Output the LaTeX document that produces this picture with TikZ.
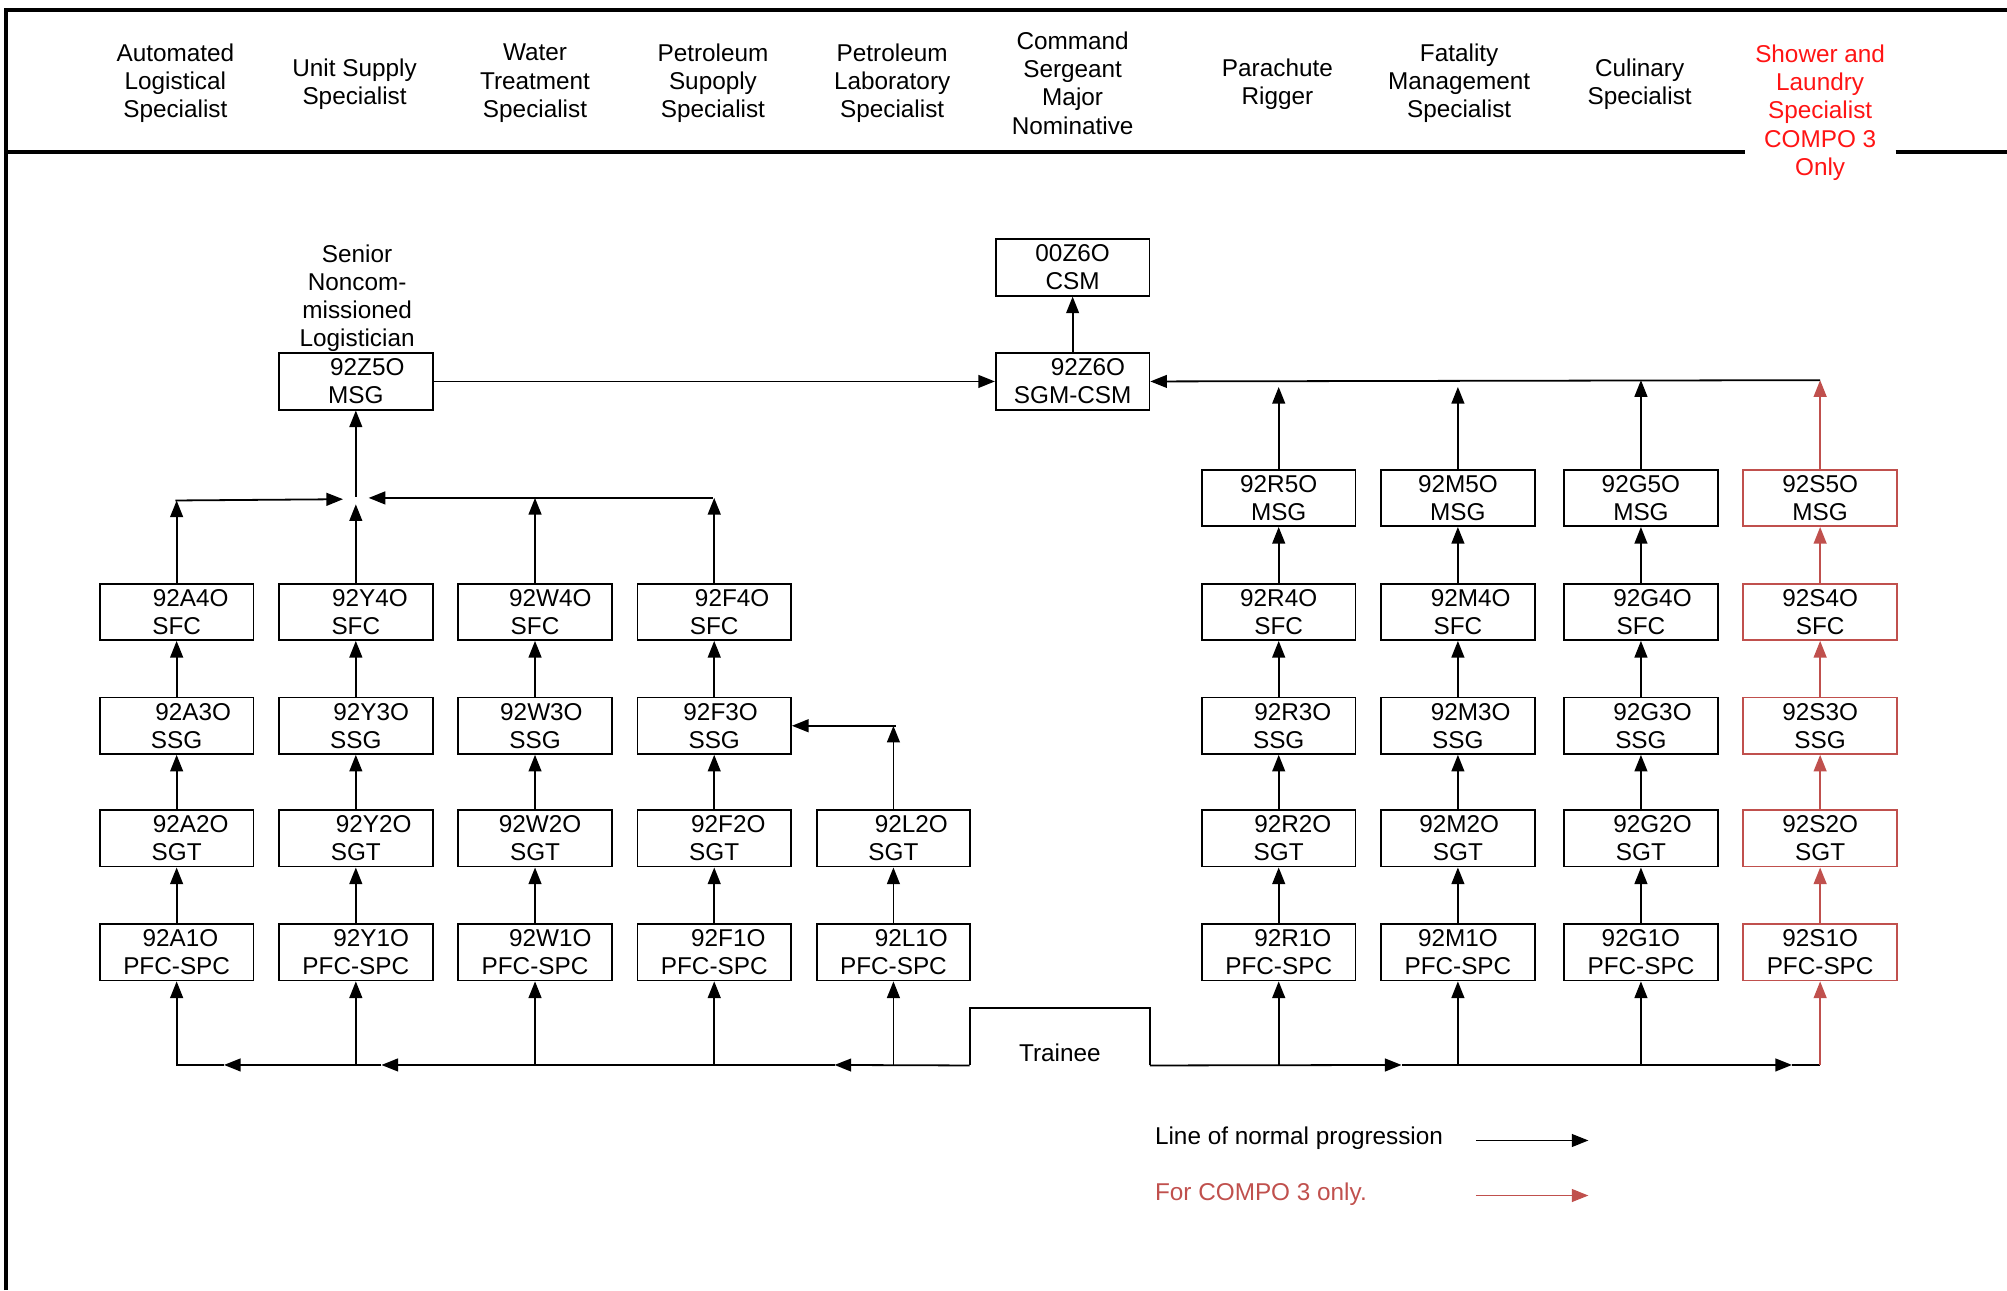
\documentclass[tikz,border=0pt]{standalone}
\usepackage{fontspec}
\setmainfont{Liberation Sans}
\usetikzlibrary{arrows.meta}
\definecolor{hred}{RGB}{255,20,20}
\definecolor{sred}{RGB}{192,80,77}
\tikzset{
  every node/.style={font=\fontsize{9.5}{11}\selectfont},
  bx/.style={draw, line width=0.7pt, minimum width=60pt, minimum height=22pt, inner sep=0pt, align=center},
  rbx/.style={bx, draw=sred},
  arr/.style={line width=0.7pt, -{Triangle[length=6.5pt,width=5pt]}},
  rarr/.style={arr, sred},
  ln/.style={line width=0.7pt},
  hd/.style={align=center, inner sep=0pt},
  frameline/.style={line width=1.5pt}
}
\newcommand\bxn[6]{\node[#1] (#2) at (#3) {\hspace*{#4pt}#5\\#6};}
\begin{document}
\begin{tikzpicture}[x=0.5pt,y=-0.5pt]
\useasboundingbox (0,0) rectangle (1568,1008);
% frame
\draw[frameline] (5,1008) -- (5,8) -- (1568,8);
\draw[frameline] (5,119) -- (1363,119);
\draw[frameline] (1481,119) -- (1568,119);
% header
\node[hd] (h1) at (137,65) {Automated\\Logistical\\Specialist};
\node[hd] (h2) at (277,66) {Unit Supply\\Specialist};
\node[hd] (h3) at (418,65) {Water\\Treatment\\Specialist};
\node[hd] (h4) at (557,65) {Petroleum\\Supoply\\Specialist};
\node[hd] (h5) at (697,65) {Petroleum\\Laboratory\\Specialist};
\node[hd] (h6) at (838,65) {Command\\Sergeant\\Major\\Nominative};
\node[hd] (h7) at (998,66) {Parachute\\Rigger};
\node[hd] (h8) at (1140,65) {Fatality\\Management\\Specialist};
\node[hd] (h9) at (1281,66) {Culinary\\Specialist};
\node[hd, text=hred] (h10) at (1422,88) {Shower and\\Laundry\\Specialist\\COMPO 3\\Only};
\node[hd] (snl) at (279,233) {Senior\\Noncom-\\missioned\\Logistician};
% top boxes
\bxn{bx}{Z5}{278,298}{9}{92Z5O}{MSG}
\bxn{bx}{C6}{838,209}{0}{00Z6O}{CSM}
\bxn{bx}{Z6}{838,298}{12}{92Z6O}{SGM-CSM}
% left columns
\bxn{bx}{A4}{138,478}{11}{92A4O}{SFC}
\bxn{bx}{A3}{138,567}{13}{92A3O}{SSG}
\bxn{bx}{A2}{138,655}{11}{92A2O}{SGT}
\bxn{bx}{A1}{138,744}{3}{92A1O}{PFC-SPC}
\bxn{bx}{Y4}{278,478}{11}{92Y4O}{SFC}
\bxn{bx}{Y3}{278,567}{12}{92Y3O}{SSG}
\bxn{bx}{Y2}{278,655}{14}{92Y2O}{SGT}
\bxn{bx}{Y1}{278,744}{12}{92Y1O}{PFC-SPC}
\bxn{bx}{W4}{418,478}{12}{92W4O}{SFC}
\bxn{bx}{W3}{418,567}{5}{92W3O}{SSG}
\bxn{bx}{W2}{418,655}{4}{92W2O}{SGT}
\bxn{bx}{W1}{418,744}{12}{92W1O}{PFC-SPC}
\bxn{bx}{F4}{558,478}{14}{92F4O}{SFC}
\bxn{bx}{F3}{558,567}{5}{92F3O}{SSG}
\bxn{bx}{F2}{558,655}{11}{92F2O}{SGT}
\bxn{bx}{F1}{558,744}{11}{92F1O}{PFC-SPC}
\bxn{bx}{L2}{698,655}{14}{92L2O}{SGT}
\bxn{bx}{L1}{698,744}{14}{92L1O}{PFC-SPC}
% right columns
\bxn{bx}{R5}{999,389}{0}{92R5O}{MSG}
\bxn{bx}{R4}{999,478}{0}{92R4O}{SFC}
\bxn{bx}{R3}{999,567}{11}{92R3O}{SSG}
\bxn{bx}{R2}{999,655}{11}{92R2O}{SGT}
\bxn{bx}{R1}{999,744}{11}{92R1O}{PFC-SPC}
\bxn{bx}{M5}{1139,389}{0}{92M5O}{MSG}
\bxn{bx}{M4}{1139,478}{10}{92M4O}{SFC}
\bxn{bx}{M3}{1139,567}{10}{92M3O}{SSG}
\bxn{bx}{M2}{1139,655}{1}{92M2O}{SGT}
\bxn{bx}{M1}{1139,744}{0}{92M1O}{PFC-SPC}
\bxn{bx}{G5}{1282,389}{0}{92G5O}{MSG}
\bxn{bx}{G4}{1282,478}{9}{92G4O}{SFC}
\bxn{bx}{G3}{1282,567}{9}{92G3O}{SSG}
\bxn{bx}{G2}{1282,655}{9}{92G2O}{SGT}
\bxn{bx}{G1}{1282,744}{0}{92G1O}{PFC-SPC}
\bxn{rbx}{S5}{1422,389}{0}{92S5O}{MSG}
\bxn{rbx}{S4}{1422,478}{0}{92S4O}{SFC}
\bxn{rbx}{S3}{1422,567}{0}{92S3O}{SSG}
\bxn{rbx}{S2}{1422,655}{0}{92S2O}{SGT}
\bxn{rbx}{S1}{1422,744}{0}{92S1O}{PFC-SPC}
% trainee
\node[minimum width=70pt, minimum height=22pt, inner sep=0pt] (tr) at (828,810) {};
\draw[ln] (tr.south west) -- (tr.north west) -- (tr.north east) -- (tr.south east);
\node[anchor=base, inner sep=0pt] (trl) at (828,829) {Trainee};
% column chains
\foreach \c in {A,Y,W,F}{
  \draw[arr] (\c1) -- (\c2);
  \draw[arr] (\c2) -- (\c3);
  \draw[arr] (\c3) -- (\c4);
}
\draw[arr] (L1) -- (L2);
\foreach \c in {R,M,G}{
  \draw[arr] (\c1) -- (\c2);
  \draw[arr] (\c2) -- (\c3);
  \draw[arr] (\c3) -- (\c4);
  \draw[arr] (\c4) -- (\c5);
}
\draw[rarr] (S1) -- (S2);
\draw[rarr] (S2) -- (S3);
\draw[rarr] (S3) -- (S4);
\draw[rarr] (S4) -- (S5);
% left junction to 92Z5O
\coordinate (jA) at (137,391);
\coordinate (jZl) at (268,390);
\coordinate (jY) at (278,394);
\coordinate (jZ) at (278,388);
\coordinate (jZr) at (288,389);
\coordinate (jF) at (557,389);
\draw[arr] (A4.north) -- (A4.north |- jA);
\draw[arr] (jA) -- (jZl);
\draw[arr] (Y4.north) -- (jY);
\draw[arr] (jZ) -- (Z5.south);
\draw[arr] (jF) -- (jZr);
\draw[arr] (W4.north) -- (W4.north |- jF);
\draw[arr] (F4.north) -- (F4.north |- jF);
% 92L2O to 92F3O
\coordinate (jL) at (700,567);
\draw[arr] (L2.north) -- (L2.north |- jL);
\draw[arr] (jL) -- (F3.east);
% top
\draw[arr] (Z5.east) -- (Z6.west);
\draw[arr] (Z6.north) -- (C6.south);
\coordinate (jS) at (1422,297);
\draw[arr] (jS) -- (Z6.east);
\draw[arr] (R5.north) -- ++(0,-64);
\draw[arr] (M5.north) -- ++(0,-64);
\draw[arr] (G5.north) -- (G5.north |- jS);
\draw[rarr] (S5.north) -- (jS);
% bottom distribution line
\coordinate (b0) at (138,832);
\coordinate (bA) at (175,832);
\coordinate (bY) at (298,832);
\coordinate (bL) at (652,832);
\coordinate (bR1) at (1095,832);
\coordinate (bR2) at (1400,832);
\coordinate (bS) at (1422,832);
\draw[arr] (tr.south west) -- (bL);
\draw[arr] (bL) -- (bY);
\draw[arr] (bY) -- (bA);
\draw[arr] (bA) -- (b0) -- (A1.south);
\foreach \c in {Y,W,F,L}{
  \draw[arr] (\c1.south |- b0) -- (\c1.south);
}
\draw[arr] (tr.south east) -- (bR1);
\draw[arr] (bR1) -- (bR2);
\draw[ln] (bR2) -- (bS);
\foreach \c in {R,M,G}{
  \draw[arr] (\c1.south |- b0) -- (\c1.south);
}
\draw[rarr] (bS) -- (S1.south);
% legend
\node[anchor=west, inner sep=0pt] (lg1) at (902,889) {Line of normal progression};
\node[anchor=west, inner sep=0pt, text=sred] (lg2) at (902,933) {For COMPO 3 only.};
\coordinate (lg1a) at (1153,891);
\coordinate (lg1b) at (1241,891);
\coordinate (lg2a) at (1153,934);
\coordinate (lg2b) at (1241,934);
\draw[arr] (lg1a) -- (lg1b);
\draw[rarr] (lg2a) -- (lg2b);
\end{tikzpicture}
\end{document}
